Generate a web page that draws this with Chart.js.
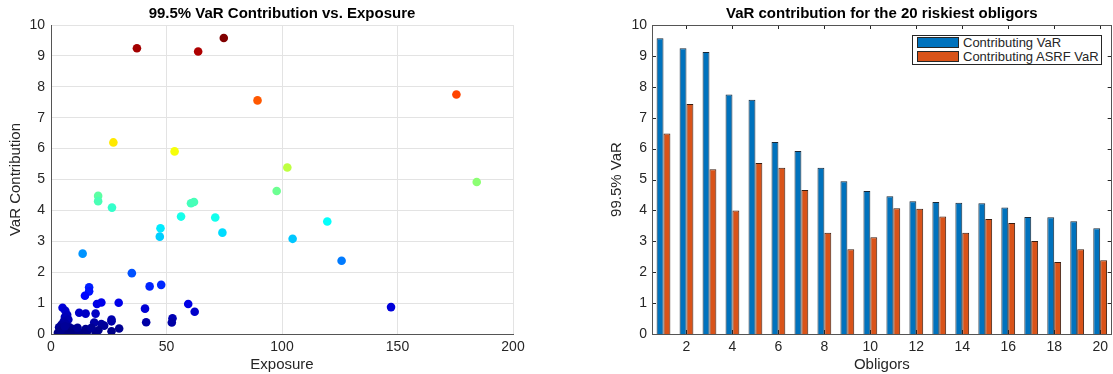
<!DOCTYPE html>
<html>
<head>
<meta charset="utf-8">
<script src="https://cdn.jsdelivr.net/npm/chart.js@4/dist/chart.umd.min.js"></script>
<style>
  body { margin: 0; background: #fff; width: 1113px; height: 374px; overflow: hidden; position: relative; font-family: "Liberation Sans", Arial, sans-serif; }
  #left { position: absolute; left: 0; top: 0; }
  #right { position: absolute; left: 560px; top: 0; }
  #legend { position: absolute; left: 912px; top: 35px; width: 188px; height: 28px; border: 1px solid #262626; background: #fff; font-size: 13px; color: #262626; }
  .row { position: absolute; left: 4px; height: 12px; line-height: 12px; white-space: nowrap; }
  .sw { display: inline-block; width: 42px; height: 11px; border: 1px solid #262626; box-sizing: border-box; vertical-align: top; margin-right: 4px; }
</style>
</head>
<body>
<canvas id="left" width="560" height="374"></canvas>
<canvas id="right" width="553" height="374"></canvas>
<div id="legend"></div>
<script>
"use strict"

// scatter: exposure vs VaR contribution (one entry per obligor)
const exposure = [37.2, 63.7, 74.8, 89.4, 175.5, 27.0, 53.5, 102.3, 97.7, 184.3,
    20.4, 20.4, 26.4, 60.6, 61.9, 56.3, 71.1, 47.4, 47.1, 74.2,
    119.6, 104.6, 125.8, 13.7, 35.0, 42.7, 47.7, 147.2, 16.5, 16.5,
    14.7, 19.9, 21.8, 29.3, 59.4, 62.2, 40.7, 41.2, 52.6, 52.3,
    12.2, 15.0, 19.3, 26.2, 26.2, 29.5, 26.2, 18.7, 21.8, 23.0,
    15.0, 15.7, 19.3, 10.0, 11.0, 5.0, 6.2, 7.0, 6.0, 7.5,
    5.5, 4.5, 6.5, 3.5, 5.0, 8.0, 9.0, 3.0, 4.0, 5.5,
    6.5, 7.5, 8.5, 4.2, 6.0, 12.5, 11.5, 20.5, 17.5];
const varContribution = [9.25, 9.14, 9.58, 7.56, 7.75, 6.20, 5.91, 5.39, 4.63, 4.92,
    4.47, 4.30, 4.09, 4.23, 4.27, 3.80, 3.77, 3.42, 3.15, 3.28,
    3.64, 3.08, 2.37, 2.60, 1.97, 1.54, 1.59, 0.87, 1.51, 1.38,
    1.24, 0.97, 1.02, 1.01, 0.97, 0.72, 0.82, 0.38, 0.51, 0.37,
    0.69, 0.66, 0.66, 0.47, 0.41, 0.18, 0.09, 0.37, 0.32, 0.27,
    0.16, 0.09, 0.05, 0.16, 0.09, 0.85, 0.75, 0.62, 0.55, 0.47,
    0.40, 0.30, 0.32, 0.22, 0.18, 0.22, 0.12, 0.04, 0.02, 0.06,
    0.12, 0.05, 0.03, 0.12, 0.25, 0.05, 0.20, 0.12, 0.20];

// bars: 20 riskiest obligors
const obligors = [1, 2, 3, 4, 5, 6, 7, 8, 9, 10, 11, 12, 13, 14, 15, 16, 17, 18, 19, 20];
const contributingVaR = [9.57, 9.25, 9.13, 7.75, 7.58, 6.21, 5.92, 5.38, 4.94, 4.63,
    4.46, 4.30, 4.27, 4.25, 4.23, 4.09, 3.79, 3.78, 3.65, 3.42];
const contributingASRF = [6.49, 7.44, 5.33, 4.00, 5.53, 5.38, 4.66, 3.28, 2.74, 3.13,
    4.07, 4.05, 3.80, 3.28, 3.72, 3.59, 3.01, 2.33, 2.74, 2.39];
const seriesNames = ["Contributing VaR", "Contributing ASRF VaR"];
const seriesColors = ["#0072BD", "#D95319"];

const FONT = "'Liberation Sans', Arial, sans-serif";
const TXT = "#262626";

// jet colormap, MATLAB style
function jet(t) {
    let c = v => Math.round(255 * Math.max(0, Math.min(1, v)));
    let r = c(1.5 - Math.abs(4 * t - 3));
    let g = c(1.5 - Math.abs(4 * t - 2));
    let b = c(1.5 - Math.abs(4 * t - 1));
    return "rgb(" + r + "," + g + "," + b + ")";
}
const cMin = Math.min(...varContribution);
const cMax = Math.max(...varContribution);

let points = exposure.map((x, i) => ({ x: x, y: varContribution[i] }));

new Chart(document.getElementById("left"), {
    type: "scatter",
    data: {
        datasets: [{
            data: points,
            pointRadius: 4.3,
            pointHoverRadius: 4.3,
            borderWidth: 0,
            backgroundColor: ctx => jet((ctx.raw.y - cMin) / (cMax - cMin))
        }]
    },
    options: {
        responsive: false,
        animation: false,
        layout: { padding: { left: 0, right: 47, top: 0, bottom: 0 } },
        plugins: {
            legend: { display: false },
            tooltip: { enabled: false },
            title: {
                display: true, fullSize: false,
                text: "99.5% VaR Contribution vs. Exposure",
                color: "#000", font: { family: FONT, size: 15, weight: "bold" },
                padding: { top: 5, bottom: 2 }
            }
        },
        scales: {
            x: {
                min: 0, max: 200,
                ticks: { stepSize: 50, color: TXT, font: { family: FONT, size: 14 }, padding: 5 },
                grid: { color: "#e3e3e3", drawTicks: false },
                border: { color: "#555" },
                title: { display: true, text: "Exposure", color: TXT, font: { family: FONT, size: 15 }, padding: 0 },
                afterFit: s => { s.height = 40 }
            },
            y: {
                min: 0, max: 10,
                ticks: { stepSize: 1, color: TXT, font: { family: FONT, size: 14 }, padding: 6 },
                grid: { color: "#e3e3e3", drawTicks: false },
                border: { color: "#555" },
                title: { display: true, text: "VaR Contribution", color: TXT, font: { family: FONT, size: 15 }, padding: { top: 7, bottom: 0 } },
                afterFit: s => { s.width = 51 }
            }
        }
    }
});

// box and inward ticks for the bar chart
const boxPlugin = {
    id: "box",
    afterDatasetsDraw(chart) {
        let ctx = chart.ctx, a = chart.chartArea;
        let xs = chart.scales.x, ys = chart.scales.y;
        ctx.save();
        ctx.strokeStyle = "#262626";
        ctx.lineWidth = 1;
        ctx.beginPath();
        for (let i = 0; i < obligors.length; i++) {
            if (obligors[i] % 2 !== 0) continue;
            let px = Math.round(xs.getPixelForValue(i)) + 0.5;
            ctx.moveTo(px, a.top); ctx.lineTo(px, a.top + 4);
            ctx.moveTo(px, a.bottom); ctx.lineTo(px, a.bottom - 4);
        }
        for (let v = 0; v <= 10; v++) {
            let py = Math.round(ys.getPixelForValue(v)) + 0.5;
            ctx.moveTo(a.left, py); ctx.lineTo(a.left + 4, py);
            ctx.moveTo(a.right, py); ctx.lineTo(a.right - 4, py);
        }
        ctx.stroke();
        ctx.strokeStyle = "#555";
        ctx.strokeRect(Math.round(a.left) + 0.5, Math.round(a.top) + 0.5, Math.round(a.right - a.left) - 1, Math.round(a.bottom - a.top));
        ctx.restore();
    }
};

new Chart(document.getElementById("right"), {
    type: "bar",
    data: {
        labels: obligors,
        datasets: [
            { label: seriesNames[0], data: contributingVaR, backgroundColor: seriesColors[0], borderColor: "#1b2a38", borderWidth: 1 },
            { label: seriesNames[1], data: contributingASRF, backgroundColor: seriesColors[1], borderColor: "#3a1d10", borderWidth: 1 }
        ]
    },
    options: {
        responsive: false,
        animation: false,
        layout: { padding: { left: 48, right: 1, top: 0, bottom: 0 } },
        datasets: { bar: { categoryPercentage: 0.6, barPercentage: 1.0 } },
        plugins: {
            legend: { display: false },
            tooltip: { enabled: false },
            title: {
                display: true, fullSize: false,
                text: "VaR contribution for the 20 riskiest obligors",
                color: "#000", font: { family: FONT, size: 15, weight: "bold" },
                padding: { top: 5, bottom: 2 }
            }
        },
        scales: {
            x: {
                ticks: {
                    autoSkip: false, maxRotation: 0, color: TXT, font: { family: FONT, size: 14 }, padding: 5,
                    callback: (v, i) => obligors[i] % 2 === 0 ? String(obligors[i]) : ""
                },
                grid: { display: false, drawTicks: false },
                border: { display: false },
                title: { display: true, text: "Obligors", color: TXT, font: { family: FONT, size: 15 }, padding: 0 },
                afterFit: s => { s.height = 40 }
            },
            y: {
                min: 0, max: 10,
                ticks: { stepSize: 1, color: TXT, font: { family: FONT, size: 14 }, padding: 5 },
                grid: { display: false, drawTicks: false },
                border: { display: false },
                title: { display: true, text: "99.5% VaR", color: TXT, font: { family: FONT, size: 15 }, padding: 0 },
                afterFit: s => { s.width = 44 }
            }
        }
    },
    plugins: [boxPlugin]
});

// legend box inside the bar chart
let legend = document.getElementById("legend");
seriesNames.forEach((name, i) => {
    let row = document.createElement("div");
    row.className = "row";
    row.style.top = (1 + i * 14) + "px";
    row.innerHTML = '<span class="sw" style="background:' + seriesColors[i] + '"></span>' + name;
    legend.appendChild(row);
});
</script>
</body>
</html>
